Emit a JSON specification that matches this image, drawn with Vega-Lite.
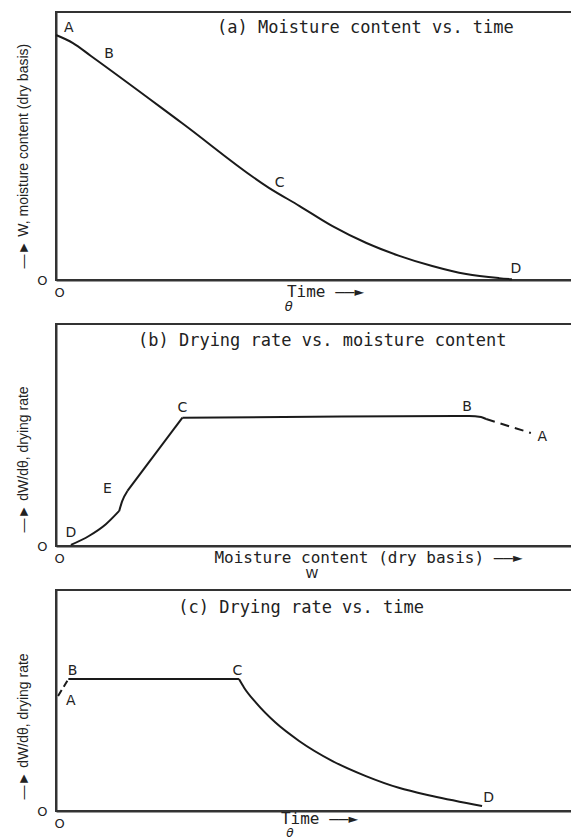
{
  "$schema": "https://vega.github.io/schema/vega-lite/v6.json",
  "padding": {"left": 14, "top": 11, "right": 0, "bottom": 0},
  "background": "white",
  "bounds": "flush",
  "spacing": 44,
  "config": {
    "view": {"stroke": "#333", "strokeWidth": 2},
    "axis": {"domainColor": "#333", "domainWidth": 2, "ticks": false, "tickSize": 0, "grid": false, "labelFont": "DejaVu Sans", "labelFontSize": 13, "labelColor": "#222", "titleColor": "#222", "titleFontWeight": "normal"},
    "axisX": {"labelBaseline": "middle", "labelPadding": 12, "labelOffset": 3, "labelFlush": false, "titleFont": "DejaVu Sans Mono", "titleFontSize": 16, "titleBaseline": "middle"},
    "axisY": {"labelPadding": 9, "labelBaseline": "middle", "titleFont": "Liberation Sans", "titleFontSize": 14, "titleAngle": 270, "titleAlign": "left", "titleBaseline": "alphabetic", "titleX": -29}
  },
  "vconcat": [
    {
      "width": 516,
      "height": 268,
      "layer": [
        {
          "data": {"values": [
            {"x": 0, "y": 91.4}, {"x": 3.3, "y": 88.4}, {"x": 6.8, "y": 83.6}, {"x": 24.5, "y": 58.6},
            {"x": 41.5, "y": 34.3}, {"x": 47.4, "y": 27.6}, {"x": 53.8, "y": 20.1}, {"x": 60.4, "y": 13.8},
            {"x": 66.8, "y": 9.0}, {"x": 73.2, "y": 5.2}, {"x": 79.8, "y": 2.2}, {"x": 86.2, "y": 0.7}, {"x": 88.7, "y": 0.3}
          ]},
          "mark": {"type": "line", "interpolate": "monotone", "color": "#1a1a1a", "strokeWidth": 2},
          "encoding": {
            "x": {"field": "x", "type": "quantitative", "scale": {"domain": [0, 100.4], "nice": false},
                  "axis": {"values": [0], "labelExpr": "'O'", "title": "Time ——►", "titleX": 269, "titleY": 11}},
            "y": {"field": "y", "type": "quantitative", "scale": {"domain": [0, 100], "nice": false},
                  "axis": {"values": [0], "labelExpr": "'O'", "title": "—►  W, moisture content (dry basis)", "titleY": 256}}
          }
        },
        {
          "data": {"values": [
            {"x": 2.5, "y": 94, "t": "A"}, {"x": 10.3, "y": 84.3, "t": "B"}, {"x": 43.5, "y": 36.2, "t": "C"}, {"x": 89.5, "y": 4.1, "t": "D"}
          ]},
          "mark": {"type": "text", "font": "DejaVu Sans", "fontSize": 14, "color": "#222"},
          "encoding": {"x": {"field": "x", "type": "quantitative"}, "y": {"field": "y", "type": "quantitative"}, "text": {"field": "t"}}
        },
        {
          "data": {"values": [{"x": 60.2, "y": 94, "t": "(a) Moisture content vs. time"}]},
          "mark": {"type": "text", "font": "DejaVu Sans Mono", "fontSize": 17, "color": "#222"},
          "encoding": {"x": {"field": "x", "type": "quantitative"}, "y": {"field": "y", "type": "quantitative"}, "text": {"field": "t"}}
        },
        {
          "data": {"values": [{"x": 45.3, "y": -12.7, "t": "θ"}]},
          "mark": {"type": "text", "font": "DejaVu Sans", "fontSize": 13, "fontStyle": "italic", "baseline": "bottom", "color": "#222"},
          "encoding": {"x": {"field": "x", "type": "quantitative"}, "y": {"field": "y", "type": "quantitative"}, "text": {"field": "t"}}
        }
      ]
    },
    {
      "width": 516,
      "height": 222,
      "layer": [
        {
          "data": {"values": [
            {"seg": "s1", "x": 2.9, "y": 0.5}, {"seg": "s1", "x": 6.4, "y": 4.5}, {"seg": "s1", "x": 9.7, "y": 9.8}, {"seg": "s1", "x": 12.3, "y": 15.8},
            {"seg": "s2", "x": 12.3, "y": 15.8}, {"seg": "s2", "x": 12.9, "y": 20.3}, {"seg": "s2", "x": 13.9, "y": 24.8},
            {"seg": "s3", "x": 13.9, "y": 24.8}, {"seg": "s3", "x": 24.6, "y": 57.8},
            {"seg": "s4", "x": 24.6, "y": 57.8}, {"seg": "s4", "x": 50, "y": 58.2}, {"seg": "s4", "x": 80.4, "y": 58.6}, {"seg": "s4", "x": 82.7, "y": 58.1}, {"seg": "s4", "x": 83.7, "y": 57.2}
          ]},
          "mark": {"type": "line", "interpolate": "monotone", "color": "#1a1a1a", "strokeWidth": 2},
          "encoding": {
            "x": {"field": "x", "type": "quantitative", "scale": {"domain": [0, 100.4], "nice": false},
                  "axis": {"values": [0], "labelExpr": "'O'", "title": "Moisture content (dry basis) ——►", "titleX": 312, "titleY": 11}},
            "y": {"field": "y", "type": "quantitative", "scale": {"domain": [0, 100], "nice": false},
                  "axis": {"values": [0], "labelExpr": "'O'", "title": "—►  dW/dθ, drying rate", "titleY": 208}},
            "detail": {"field": "seg"}
          }
        },
        {
          "data": {"values": [{"x": 83.7, "y": 57.2}, {"x": 92.4, "y": 50.9}]},
          "mark": {"type": "line", "color": "#1a1a1a", "strokeWidth": 2, "strokeDash": [9, 6]},
          "encoding": {"x": {"field": "x", "type": "quantitative"}, "y": {"field": "y", "type": "quantitative"}}
        },
        {
          "data": {"values": [
            {"x": 2.9, "y": 6.0, "t": "D"}, {"x": 10.0, "y": 25.5, "t": "E"}, {"x": 24.6, "y": 62.3, "t": "C"}, {"x": 80.0, "y": 62.6, "t": "B"}, {"x": 94.6, "y": 49.1, "t": "A"}
          ]},
          "mark": {"type": "text", "font": "DejaVu Sans", "fontSize": 14, "color": "#222"},
          "encoding": {"x": {"field": "x", "type": "quantitative"}, "y": {"field": "y", "type": "quantitative"}, "text": {"field": "t"}}
        },
        {
          "data": {"values": [{"x": 51.8, "y": 92.3, "t": "(b) Drying rate vs. moisture content"}]},
          "mark": {"type": "text", "font": "DejaVu Sans Mono", "fontSize": 17, "color": "#222"},
          "encoding": {"x": {"field": "x", "type": "quantitative"}, "y": {"field": "y", "type": "quantitative"}, "text": {"field": "t"}}
        },
        {
          "data": {"values": [{"x": 49.8, "y": -12.8, "t": "W"}]},
          "mark": {"type": "text", "font": "DejaVu Sans", "fontSize": 13, "color": "#222"},
          "encoding": {"x": {"field": "x", "type": "quantitative"}, "y": {"field": "y", "type": "quantitative"}, "text": {"field": "t"}}
        }
      ]
    },
    {
      "width": 516,
      "height": 221,
      "layer": [
        {
          "data": {"values": [
            {"seg": "c1", "x": 2.4, "y": 59.7}, {"seg": "c1", "x": 35.6, "y": 59.7},
            {"seg": "c2", "x": 35.6, "y": 59.7}, {"seg": "c2", "x": 36.6, "y": 55.8}, {"seg": "c2", "x": 38.9, "y": 49.0}, {"seg": "c2", "x": 42.7, "y": 40.0},
            {"seg": "c2", "x": 47.3, "y": 31.7}, {"seg": "c2", "x": 53.8, "y": 22.6}, {"seg": "c2", "x": 60.3, "y": 15.8}, {"seg": "c2", "x": 66.7, "y": 10.5},
            {"seg": "c2", "x": 73.2, "y": 6.8}, {"seg": "c2", "x": 82.9, "y": 2.3}
          ]},
          "mark": {"type": "line", "interpolate": "monotone", "color": "#1a1a1a", "strokeWidth": 2},
          "encoding": {
            "x": {"field": "x", "type": "quantitative", "scale": {"domain": [0, 100.4], "nice": false},
                  "axis": {"values": [0], "labelExpr": "'O'", "title": "Time ——►", "titleX": 263, "titleY": 7}},
            "y": {"field": "y", "type": "quantitative", "scale": {"domain": [0, 100], "nice": false},
                  "axis": {"values": [0], "labelExpr": "'O'", "title": "—►  dW/dθ, drying rate", "titleY": 209}},
            "detail": {"field": "seg"}
          }
        },
        {
          "data": {"values": [{"x": 0.4, "y": 52.0}, {"x": 2.4, "y": 59.7}]},
          "mark": {"type": "line", "color": "#1a1a1a", "strokeWidth": 2, "strokeDash": [7, 4]},
          "encoding": {"x": {"field": "x", "type": "quantitative"}, "y": {"field": "y", "type": "quantitative"}}
        },
        {
          "data": {"values": [
            {"x": 2.9, "y": 49.8, "t": "A"}, {"x": 3.2, "y": 63.3, "t": "B"}, {"x": 35.3, "y": 63.3, "t": "C"}, {"x": 84.2, "y": 6.0, "t": "D"}
          ]},
          "mark": {"type": "text", "font": "DejaVu Sans", "fontSize": 14, "color": "#222"},
          "encoding": {"x": {"field": "x", "type": "quantitative"}, "y": {"field": "y", "type": "quantitative"}, "text": {"field": "t"}}
        },
        {
          "data": {"values": [{"x": 47.7, "y": 91.9, "t": "(c) Drying rate vs. time"}]},
          "mark": {"type": "text", "font": "DejaVu Sans Mono", "fontSize": 17, "color": "#222"},
          "encoding": {"x": {"field": "x", "type": "quantitative"}, "y": {"field": "y", "type": "quantitative"}, "text": {"field": "t"}}
        },
        {
          "data": {"values": [{"x": 45.5, "y": -13.1, "t": "θ"}]},
          "mark": {"type": "text", "font": "DejaVu Sans", "fontSize": 12, "fontStyle": "italic", "baseline": "bottom", "color": "#222"},
          "encoding": {"x": {"field": "x", "type": "quantitative"}, "y": {"field": "y", "type": "quantitative"}, "text": {"field": "t"}}
        }
      ]
    }
  ]
}
